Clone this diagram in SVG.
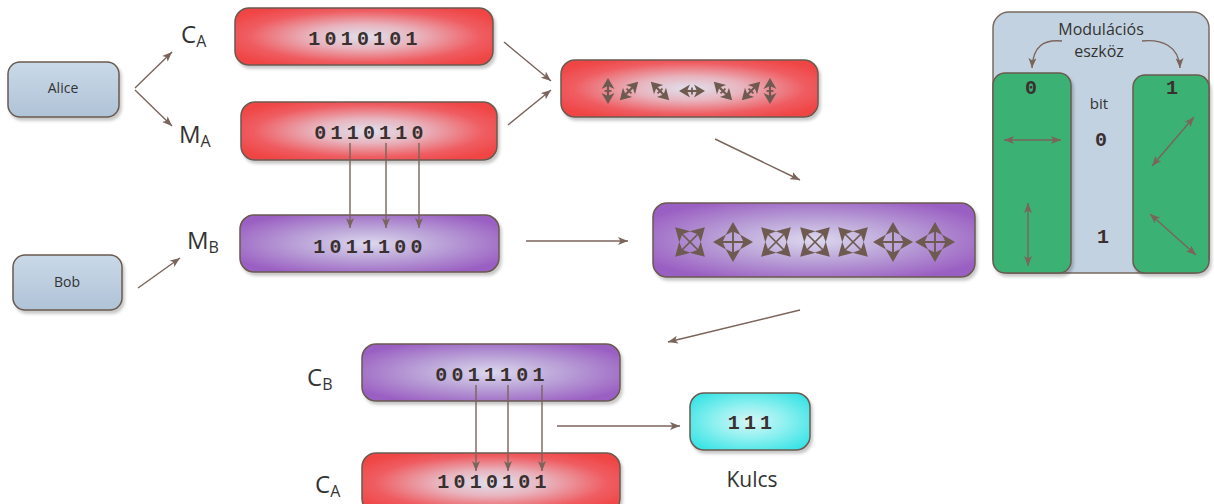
<svg xmlns="http://www.w3.org/2000/svg" xmlns:xlink="http://www.w3.org/1999/xlink" width="1214" height="504" viewBox="0 0 1214 504">
  <style>
    .lbl { font-family: "Open Sans", "Liberation Sans", sans-serif; fill: #333; }
    .bits { font-family: "Liberation Mono", "DejaVu Sans Mono", monospace; font-weight: bold; font-size: 20px; letter-spacing: 4.2px; fill: #3a3030; text-anchor: middle; }
    .box { stroke: #6a5a50; stroke-width: 1.5; filter: url(#shadow); }
    .conn { stroke: #7a645b; stroke-width: 1.4; fill: none; }
    .glyph { fill: #6e5a50; stroke: #6e5a50; }
  </style>
  <defs>
    <filter id="shadow" x="-10%" y="-10%" width="130%" height="140%">
      <feDropShadow dx="2" dy="3" stdDeviation="1.6" flood-color="#000" flood-opacity="0.22"/>
    </filter>
    <radialGradient id="gRed" cx="50%" cy="50%" r="60%">
      <stop offset="0" stop-color="#dfe1ee"/>
      <stop offset="0.35" stop-color="#e8b4be"/>
      <stop offset="0.75" stop-color="#ef5d62"/>
      <stop offset="1" stop-color="#f04545"/>
    </radialGradient>
    <radialGradient id="gPurple" cx="50%" cy="50%" r="60%">
      <stop offset="0" stop-color="#dcd8ee"/>
      <stop offset="0.45" stop-color="#bba4d8"/>
      <stop offset="1" stop-color="#9a5ec2"/>
    </radialGradient>
    <radialGradient id="gCyan" cx="50%" cy="50%" r="60%">
      <stop offset="0" stop-color="#d8f6f6"/>
      <stop offset="0.5" stop-color="#8ef0f0"/>
      <stop offset="1" stop-color="#3ee4e6"/>
    </radialGradient>
    <linearGradient id="gUser" x1="0" y1="0" x2="0" y2="1">
      <stop offset="0" stop-color="#cad9e8"/>
      <stop offset="1" stop-color="#afc3d7"/>
    </linearGradient>
    <marker id="ah" viewBox="0 0 10 8" refX="10" refY="4" markerWidth="10" markerHeight="8" markerUnits="userSpaceOnUse" orient="auto-start-reverse">
      <path d="M0,0 L10,4 L0,8 L2.5,4 Z" fill="#7a645b"/>
    </marker>
    <!-- two-headed polarisation arrow, horizontal -->
    <g id="pol" class="glyph">
      <line x1="-8" y1="0" x2="8" y2="0" stroke-width="2.2"/>
      <line x1="0" y1="-3.5" x2="0" y2="3.5" stroke-width="1.8"/>
      <path d="M13,0 L2,-6.5 L5,0 L2,6.5 Z" stroke="none"/>
      <path d="M-13,0 L-2,-6.5 L-5,0 L-2,6.5 Z" stroke="none"/>
    </g>
    <!-- arrow tip pointing +x for the four-way basis symbols -->
    <path id="tip" d="M20,0 L7,-7.5 L10.5,0 L7,7.5 Z"/>
    <!-- rectilinear basis -->
    <g id="plus" class="glyph">
      <line x1="-17" y1="0" x2="17" y2="0" stroke-width="1.9"/>
      <line x1="0" y1="-17" x2="0" y2="17" stroke-width="1.9"/>
      <use xlink:href="#tip" stroke="none"/>
      <use xlink:href="#tip" stroke="none" transform="rotate(90)"/>
      <use xlink:href="#tip" stroke="none" transform="rotate(180)"/>
      <use xlink:href="#tip" stroke="none" transform="rotate(270)"/>
    </g>
    <!-- diagonal basis -->
    <g id="cross" class="glyph">
      <line x1="-12" y1="-12" x2="12" y2="12" stroke-width="1.7"/>
      <line x1="-12" y1="12" x2="12" y2="-12" stroke-width="1.7"/>
      <g transform="rotate(45) scale(1.05)"><use xlink:href="#tip" stroke="none"/></g>
      <g transform="rotate(135) scale(1.05)"><use xlink:href="#tip" stroke="none"/></g>
      <g transform="rotate(225) scale(1.05)"><use xlink:href="#tip" stroke="none"/></g>
      <g transform="rotate(315) scale(1.05)"><use xlink:href="#tip" stroke="none"/></g>
    </g>
  </defs>

  <rect width="1214" height="504" fill="#ffffff"/>

  <!-- parties -->
  <g id="alice">
    <rect class="box" x="8" y="62" width="111" height="55" rx="12" fill="url(#gUser)"/>
    <text class="lbl" x="63" y="93" font-size="14" text-anchor="middle">Alice</text>
  </g>
  <g id="bob">
    <rect class="box" x="13" y="255" width="109" height="55" rx="12" fill="url(#gUser)"/>
    <text class="lbl" x="67" y="287" font-size="14" text-anchor="middle">Bob</text>
  </g>

  <!-- labels -->
  <g id="label-ca-top"><text class="lbl" x="181" y="43" font-size="24">C<tspan font-size="16" dy="4">A</tspan></text></g>
  <g id="label-ma"><text class="lbl" x="179" y="143" font-size="24">M<tspan font-size="16" dy="4">A</tspan></text></g>
  <g id="label-mb"><text class="lbl" x="187" y="249" font-size="24">M<tspan font-size="16" dy="4">B</tspan></text></g>
  <g id="label-cb"><text class="lbl" x="307" y="386" font-size="24">C<tspan font-size="16" dy="4">B</tspan></text></g>
  <g id="label-ca-bottom"><text class="lbl" x="315" y="493" font-size="24">C<tspan font-size="16" dy="4">A</tspan></text></g>

  <!-- bit strings -->
  <g id="ca-bits">
    <rect class="box" x="235" y="8" width="258" height="57" rx="14" fill="url(#gRed)"/>
    <text class="bits" x="365" y="45">1010101</text>
  </g>
  <g id="ma-bits">
    <rect class="box" x="241" y="102" width="256" height="58" rx="14" fill="url(#gRed)"/>
    <text class="bits" x="371" y="139">0110110</text>
  </g>
  <g id="mb-bits">
    <rect class="box" x="240" y="215" width="259" height="57" rx="14" fill="url(#gPurple)"/>
    <text class="bits" x="370" y="253">1011100</text>
  </g>
  <g id="cb-bits">
    <rect class="box" x="362" y="344" width="258" height="57" rx="14" fill="url(#gPurple)"/>
    <text class="bits" x="492" y="381">0011101</text>
  </g>
  <g id="ca-bits-bottom">
    <rect class="box" x="362" y="453" width="258" height="60" rx="14" fill="url(#gRed)"/>
    <text class="bits" x="494" y="488">1010101</text>
  </g>
  <g id="key">
    <rect class="box" x="690" y="393" width="120" height="57" rx="14" fill="url(#gCyan)"/>
    <text class="bits" x="752" y="429">111</text>
    <text class="lbl" x="752" y="487" font-size="21" text-anchor="middle">Kulcs</text>
  </g>

  <!-- photons sent by Alice -->
  <g id="photons-sent">
    <rect class="box" x="561" y="60" width="257" height="57" rx="14" fill="url(#gRed)"/>
    <use xlink:href="#pol" transform="translate(608,91) rotate(90)"/>
    <use xlink:href="#pol" transform="translate(629,91) rotate(-45)"/>
    <use xlink:href="#pol" transform="translate(660,91) rotate(45)"/>
    <use xlink:href="#pol" transform="translate(692,91)"/>
    <use xlink:href="#pol" transform="translate(723,91) rotate(45)"/>
    <use xlink:href="#pol" transform="translate(751,91) rotate(-45)"/>
    <use xlink:href="#pol" transform="translate(770,91) rotate(90)"/>
  </g>

  <!-- bases chosen by Bob -->
  <g id="bases-bob">
    <rect class="box" x="653" y="203" width="322" height="74" rx="14" fill="url(#gPurple)"/>
    <use xlink:href="#cross" transform="translate(690,242)"/>
    <use xlink:href="#plus" transform="translate(733,242)"/>
    <use xlink:href="#cross" transform="translate(776,242)"/>
    <use xlink:href="#cross" transform="translate(815,242)"/>
    <use xlink:href="#cross" transform="translate(853,242)"/>
    <use xlink:href="#plus" transform="translate(893,242)"/>
    <use xlink:href="#plus" transform="translate(935,242)"/>
  </g>

  <!-- connectors, drawn over the boxes -->
  <g id="connectors" class="conn" marker-end="url(#ah)">
    <line x1="135" y1="88" x2="172" y2="52"/>
    <line x1="135" y1="90" x2="172" y2="126"/>
    <line x1="138" y1="288" x2="180" y2="258"/>
    <line x1="504" y1="42" x2="551" y2="81"/>
    <line x1="508" y1="125" x2="551" y2="90"/>
    <line x1="715" y1="139" x2="800" y2="180"/>
    <line x1="526" y1="241" x2="628" y2="241"/>
    <line x1="800" y1="310" x2="668" y2="342"/>
    <line x1="350" y1="143" x2="350" y2="228"/>
    <line x1="386" y1="143" x2="386" y2="228"/>
    <line x1="419" y1="143" x2="419" y2="228"/>
    <line x1="476" y1="385" x2="476" y2="471"/>
    <line x1="508" y1="385" x2="508" y2="471"/>
    <line x1="542" y1="385" x2="542" y2="471"/>
    <line x1="557" y1="426" x2="680" y2="426"/>
  </g>

  <!-- modulation device legend -->
  <g id="legend">
    <rect x="993" y="12" width="216" height="261" rx="16" fill="#c3d2e0" stroke="#7a6a60" stroke-width="1.5"/>
    <rect class="box" x="993" y="73" width="78" height="200" rx="12" fill="#3bb273"/>
    <rect class="box" x="1133" y="75" width="76" height="198" rx="12" fill="#3bb273"/>
    <text class="lbl" x="1101" y="35" font-size="16" text-anchor="middle">Modulációs</text>
    <text class="lbl" x="1099" y="57" font-size="16" text-anchor="middle">eszköz</text>
    <path class="conn" d="M1062,41 C1044,39 1033,46 1032,68" marker-end="url(#ah)"/>
    <path class="conn" d="M1142,41 C1162,39 1179,46 1180,68" marker-end="url(#ah)"/>
    <text class="bits" x="1033" y="94" font-size="17" letter-spacing="0">0</text>
    <text class="bits" x="1174" y="94" font-size="17" letter-spacing="0">1</text>
    <text class="lbl" x="1099" y="109" font-size="15" text-anchor="middle">bit</text>
    <text class="bits" x="1103" y="146" font-size="17" letter-spacing="0" font-weight="normal">0</text>
    <text class="bits" x="1105" y="243" font-size="17" letter-spacing="0">1</text>
    <line class="conn" x1="1004" y1="140" x2="1061" y2="140" marker-start="url(#ah)" marker-end="url(#ah)"/>
    <line class="conn" x1="1028" y1="203" x2="1028" y2="266" marker-start="url(#ah)" marker-end="url(#ah)"/>
    <line class="conn" x1="1152" y1="166" x2="1194" y2="117" marker-start="url(#ah)" marker-end="url(#ah)"/>
    <line class="conn" x1="1150" y1="214" x2="1196" y2="255" marker-start="url(#ah)" marker-end="url(#ah)"/>
  </g>
</svg>
